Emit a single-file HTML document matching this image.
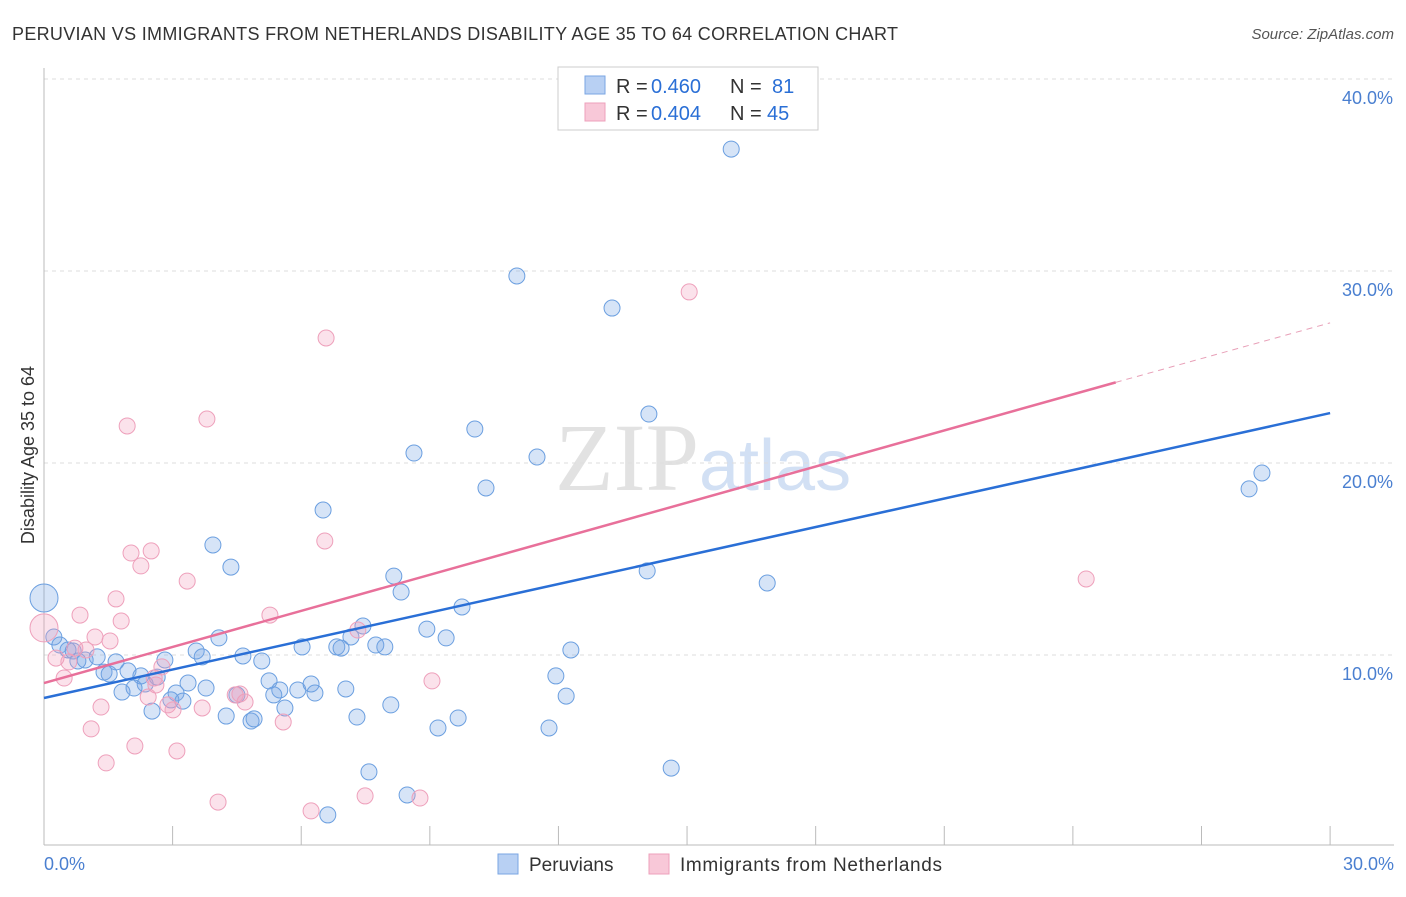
<!DOCTYPE html>
<html><head><meta charset="utf-8"><style>
body{margin:0;background:#fff;font-family:"Liberation Sans",sans-serif}
</style></head><body>
<svg width="1406" height="892" xmlns="http://www.w3.org/2000/svg">
<text x="12" y="40" font-size="18" fill="#333" textLength="886">PERUVIAN VS IMMIGRANTS FROM NETHERLANDS DISABILITY AGE 35 TO 64 CORRELATION CHART</text>
<text x="1394" y="39" font-size="15" fill="#555" font-style="italic" text-anchor="end">Source: ZipAtlas.com</text>
<text x="555" y="490" font-size="96" fill="#e2e2e2" font-family="Liberation Serif">ZIP<tspan fill="#d2e0f4" font-family="Liberation Sans" font-size="72">atlas</tspan></text>
<g id="grid"></g><g id="axes"></g><g id="pts"></g><g id="lines"></g>
<text transform="translate(34,455) rotate(-90)" font-size="18" fill="#333" text-anchor="middle">Disability Age 35 to 64</text>
<g>
<rect x="558" y="67" width="260" height="63" fill="#fff" stroke="#ccc"/>
<rect x="585" y="76" width="20" height="18" fill="#b8d0f3" stroke="#7aa6e3"/>
<rect x="585" y="103" width="20" height="18" fill="#f8c8d8" stroke="#eea0bb"/>
<text x="616" y="93" font-size="20" fill="#333">R =</text>
<text x="651" y="93" font-size="20" fill="#2a6fd6">0.460</text>
<text x="730" y="93" font-size="20" fill="#333">N =</text>
<text x="772" y="93" font-size="20" fill="#2a6fd6">81</text>
<text x="616" y="120" font-size="20" fill="#333">R =</text>
<text x="651" y="120" font-size="20" fill="#2a6fd6">0.404</text>
<text x="730" y="120" font-size="20" fill="#333">N =</text>
<text x="767" y="120" font-size="20" fill="#2a6fd6">45</text>
</g>
<g>
<rect x="498" y="854" width="20" height="20" fill="#b8d0f3" stroke="#7aa6e3"/>
<text x="529" y="871" font-size="19" fill="#333">Peruvians</text>
<rect x="649" y="854" width="20" height="20" fill="#f8c8d8" stroke="#eea0bb"/>
<text x="680" y="871" font-size="19" fill="#333" textLength="262">Immigrants from Netherlands</text>
</g>
</svg>
<script>
const yTicks=[10,20,30,40];
const yTickLabels=["10.0%","20.0%","30.0%","40.0%"];
const xTickVals=[0,3,6,9,12,15,18,21,24,27,30];
const blueX=[16.03,11.03,13.25,14.11,10.05,11.5,8.63,10.31,28.41,28.11,6.51,3.94,4.36,14.07,16.87,8.16,8.33,9.75,0,7.44,8.93,7.16,9.38,12.29,4.08,7.74,7.95,6.83,6.93,6.02,0.23,0.37,0.56,0.68,0.96,1.24,0.79,1.68,3.55,3.69,4.64,5.08,2.82,1.96,1.4,1.52,2.26,2.64,2.36,3.36,3.78,5.25,5.5,5.36,5.92,6.23,6.32,7.04,2.1,1.82,3.08,2.96,3.24,2.52,4.5,5.62,4.25,4.83,4.9,7.3,8.09,9.66,9.19,11.94,12.18,11.78,7.58,8.47,6.62,14.63];
const blueY=[36.35,29.74,28.07,22.55,21.77,20.31,20.52,18.7,19.48,18.65,17.55,15.73,14.58,14.38,13.75,14.11,13.28,12.5,12.97,11.51,11.35,10.94,10.89,10.26,10.89,10.52,10.42,10.42,10.36,10.42,10.94,10.52,10.26,10.21,9.74,9.9,9.69,9.64,10.21,9.9,9.95,9.69,9.74,9.17,9.11,9.01,8.91,8.85,8.49,8.54,8.28,8.65,8.18,7.92,8.18,8.49,8.02,8.23,8.28,8.07,8.02,7.66,7.6,7.08,7.92,7.24,6.82,6.56,6.67,6.77,7.4,6.72,6.2,8.91,7.86,6.2,3.91,2.71,1.67,4.11];
const pinkX=[6.58,15.05,1.94,3.8,6.55,2.03,2.5,2.26,3.34,24.31,1.68,0.84,5.27,1.8,0,7.32,1.19,1.54,0.72,0.98,0.28,0.58,2.75,2.57,0.47,2.61,9.05,4.46,4.57,4.69,2.43,2.89,3.01,3.69,1.33,5.58,1.1,2.12,3.1,1.45,4.06,6.23,7.49,8.77];
const pinkY=[26.51,28.91,21.93,22.29,15.94,15.31,15.42,14.64,13.85,13.96,12.92,12.08,12.08,11.77,11.41,11.3,10.94,10.73,10.36,10.26,9.84,9.64,9.38,8.8,8.8,8.44,8.65,7.92,7.97,7.55,7.81,7.4,7.14,7.24,7.29,6.51,6.15,5.26,5,4.38,2.34,1.88,2.66,2.55];
const blueLine=[7.76,22.6];
const pinkLine=[8.54,24.2,27.3];
const NS="http://www.w3.org/2000/svg";
const sx=v=>44+v*42.87, sy=v=>847-v*19.2;
function mk(p,t,a){const e=document.createElementNS(NS,t);for(const k in a)e.setAttribute(k,a[k]);document.getElementById(p).appendChild(e);return e;}
yTicks.forEach((v,i)=>{
 const l=mk('grid','line',{x1:44,x2:1394,y1:sy(v),y2:sy(v),stroke:'#ddd','stroke-dasharray':'4,4'});
 
 
 const t=mk('grid','text',{x:1393,y:sy(v)+25,'font-size':18,fill:'#4a7fd0','text-anchor':'end'});
 t.textContent=yTickLabels[i];
 
 
});
mk('grid','line',{x1:44,x2:1394,y1:79,y2:79,stroke:'#ddd','stroke-dasharray':'4,4'});
mk('axes','line',{x1:44,x2:44,y1:68,y2:845,stroke:'#bbb'});
mk('axes','line',{x1:44,x2:1394,y1:845,y2:845,stroke:'#bbb'});
xTickVals.forEach(v=>{const t=mk('axes','line',{x1:sx(v),x2:sx(v),y1:826,y2:845,stroke:'#bbb'});
 
 });
let a=mk('axes','text',{x:44,y:870,'font-size':18,fill:'#4a7fd0'});a.textContent="0.0%";


a=mk('axes','text',{x:1394,y:870,'font-size':18,fill:'#4a7fd0','text-anchor':'end'});a.textContent="30.0%";


blueX.forEach((x,i)=>{const c=mk('pts','circle',{cx:sx(x),cy:sy(blueY[i]),r:(x===0?14:8),fill:'rgba(120,165,230,0.3)',stroke:'#6b9fe0','stroke-width':1});
 
 });
pinkX.forEach((x,i)=>{const c=mk('pts','circle',{cx:sx(x),cy:sy(pinkY[i]),r:(x===0?14:8),fill:'rgba(242,160,190,0.3)',stroke:'#eea0bb','stroke-width':1});
 
 });
let l=mk('lines','line',{x1:sx(0),y1:sy(blueLine[0]),x2:sx(30),y2:sy(blueLine[1]),stroke:'#2a6fd6','stroke-width':2.5});


l=mk('lines','line',{x1:sx(0),y1:sy(pinkLine[0]),x2:sx(25),y2:sy(pinkLine[1]),stroke:'#e8709a','stroke-width':2.5});


l=mk('lines','line',{x1:sx(25),y1:sy(pinkLine[1]),x2:sx(30),y2:sy(pinkLine[2]),stroke:'#e8a0b8','stroke-width':1,'stroke-dasharray':'6,5'});


</script>
</body></html>
